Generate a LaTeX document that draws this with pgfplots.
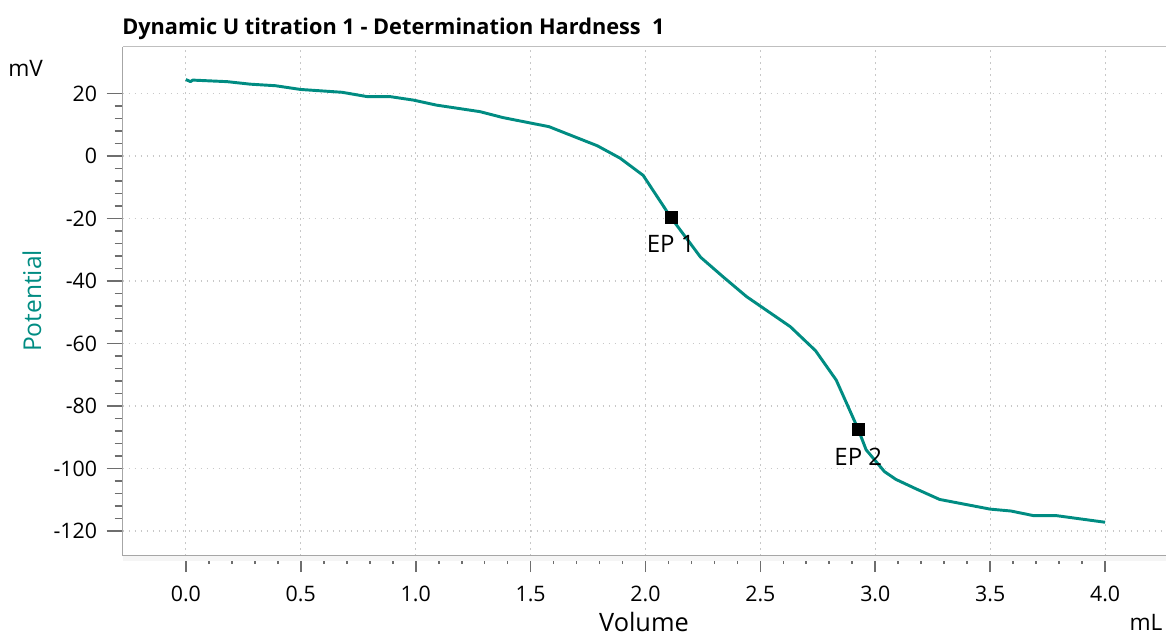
\documentclass[border=0pt]{standalone}
\usepackage{fontspec}
\setmainfont{Open Sans}
\usepackage{pgfplots}
\pgfplotsset{compat=1.18}

\definecolor{curve}{RGB}{0,140,130}
\definecolor{tickgray}{RGB}{110,110,110}
\definecolor{gridgray}{RGB}{200,200,200}

\begin{document}
\begin{tikzpicture}
% page = 1166 x 637 px, 1 px = 0.75pt
\useasboundingbox (0,0) rectangle (874.5pt,477.75pt);

\begin{axis}[
    at={(92pt,60.75pt)}, anchor=south west,
    width=782.5pt, height=382pt, scale only axis,
    xmin=-0.275, xmax=4.265,
    ymin=-128, ymax=35,
    axis x line*=bottom, axis y line*=left,
    axis line style={draw=gray!70, line width=1.1pt, -},
    xtick={0,0.5,...,4.0},
    xticklabels={0.0,0.5,1.0,1.5,2.0,2.5,3.0,3.5,4.0},
    minor x tick num=4,
    ytick={-120,-100,...,20},
    yticklabels={-120,-100,-80,-60,-40,-20,0,20},
    minor y tick num=4,
    tick align=outside,
    major tick length=12pt, minor tick length=6pt,
    tick style={draw=tickgray, line width=1.3pt},
    minor tick style={draw=tickgray, line width=1.3pt},
    ticklabel style={font=\fontsize{16}{18}\selectfont, text=black, inner sep=0pt},
    xticklabel style={yshift=-10.5pt},
    yticklabel style={xshift=-7pt},
    grid=major,
    major grid style={draw=gridgray, line width=0.9pt, dash pattern=on 1.2pt off 3.3pt},
    clip=false,
]
\fill[black!4] (rel axis cs:0,0) rectangle ([yshift=-4pt]rel axis cs:1,0);
\draw[gray!50, line width=1.1pt] (rel axis cs:0,1) -- (rel axis cs:1,1);

\addplot[curve, line width=2.2pt, line join=round] coordinates {
(0.00,24.5) (0.02,23.8) (0.03,24.3) (0.18,23.8) (0.28,23.0) (0.39,22.5)
(0.50,21.3) (0.68,20.4) (0.79,19.0) (0.89,19.0) (0.99,17.9) (1.09,16.3)
(1.28,14.2) (1.38,12.3) (1.58,9.4) (1.79,3.3) (1.89,-0.7) (1.99,-6.2)
(2.11,-19.6) (2.24,-32.4) (2.34,-38.8) (2.44,-45.0) (2.63,-54.6) (2.74,-62.3)
(2.83,-71.7) (2.926,-87.5) (2.96,-94.0) (3.04,-101.0) (3.09,-103.5) (3.18,-106.6)
(3.28,-109.9) (3.50,-113.0) (3.59,-113.6) (3.69,-115.1) (3.79,-115.1) (4.00,-117.2)
};

\addplot[only marks, mark=square*, mark size=4.5pt, mark options={fill=black, draw=black},
    nodes near coords, point meta=explicit symbolic,
    nodes near coords style={anchor=north, inner sep=0pt, yshift=-13.5pt, font=\fontsize{18}{20}\selectfont, text=black}]
    coordinates {(2.11,-19.6) [EP 1] (2.926,-87.5) [EP 2]};
\end{axis}

\node[anchor=base west, inner sep=0pt, font=\bfseries\fontsize{16.3}{18}\selectfont] at (91.5pt,452pt)
    {Dynamic U titration 1 - Determination Hardness\ \ 1};
\node[anchor=base west, inner sep=0pt, font=\fontsize{17}{19}\selectfont] at (6pt,420.75pt) {mV};
\node[rotate=90, inner sep=0pt, text=curve, font=\fontsize{18.4}{20}\selectfont] at (24pt,252pt) {Potential};
\node[anchor=base, inner sep=0pt, font=\fontsize{19}{21}\selectfont] at (483pt,4pt) {Volume};
\node[anchor=base east, inner sep=0pt, font=\fontsize{17}{19}\selectfont] at (872pt,5pt) {mL};
\end{tikzpicture}
\end{document}
